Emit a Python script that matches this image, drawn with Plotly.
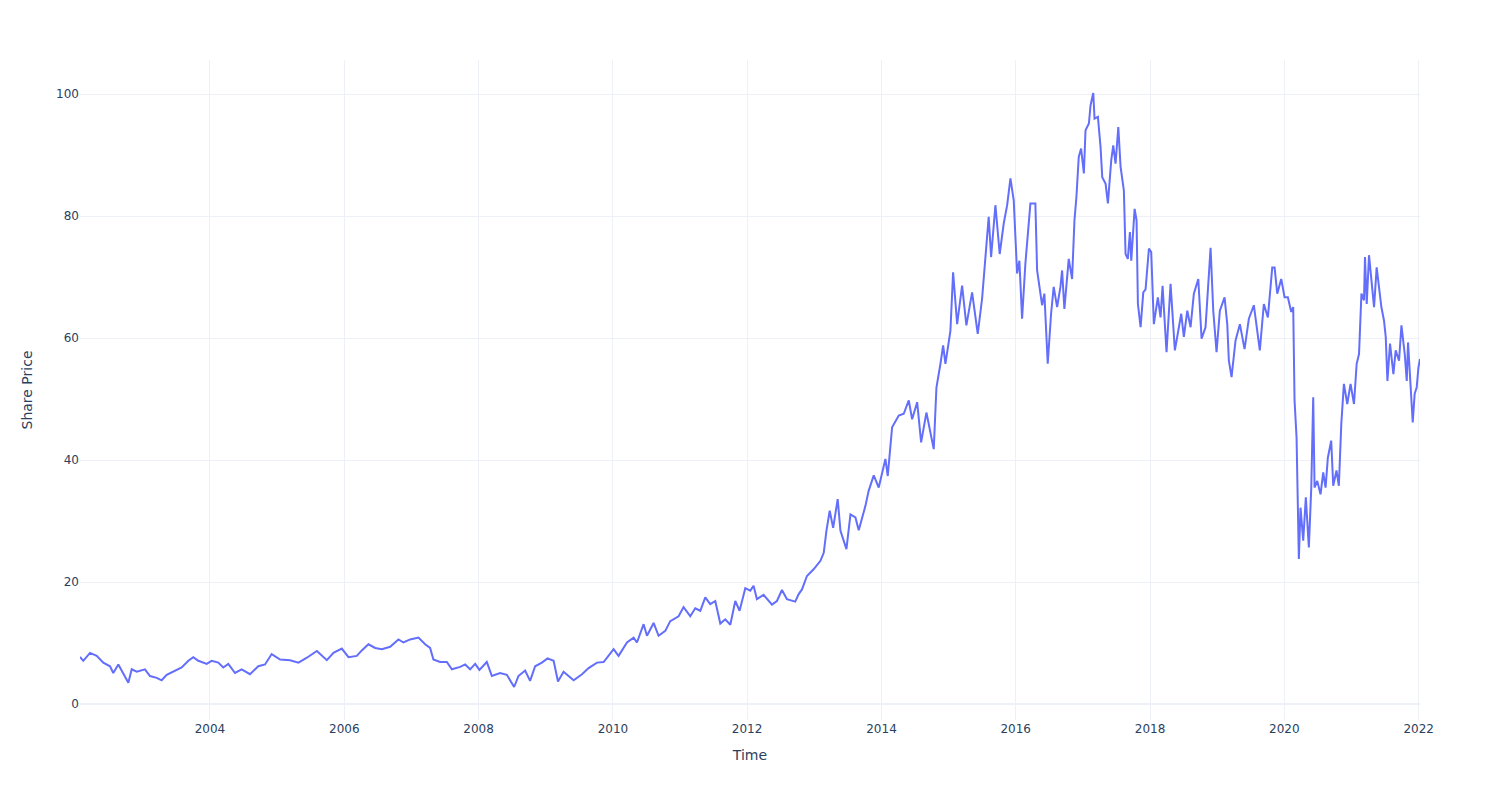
import pandas as pd
import plotly.graph_objects as go

# Dates as decimal years
years = [
    2002.063, 2002.073, 2002.112, 2002.212, 2002.312, 2002.410, 2002.510, 2002.559, 2002.634, 2002.708,
    2002.783, 2002.833, 2002.908, 2003.031, 2003.106, 2003.206, 2003.280, 2003.355, 2003.478, 2003.578,
    2003.677, 2003.751, 2003.826, 2003.951, 2004.025, 2004.124, 2004.198, 2004.273, 2004.373, 2004.472,
    2004.596, 2004.720, 2004.820, 2004.919, 2005.043, 2005.192, 2005.316, 2005.441, 2005.590, 2005.739,
    2005.837, 2005.962, 2006.061, 2006.186, 2006.260, 2006.359, 2006.459, 2006.558, 2006.682, 2006.806,
    2006.880, 2006.980, 2007.104, 2007.204, 2007.278, 2007.327, 2007.427, 2007.527, 2007.602, 2007.725,
    2007.800, 2007.874, 2007.949, 2008.013, 2008.123, 2008.198, 2008.321, 2008.421, 2008.530, 2008.594,
    2008.694, 2008.768, 2008.843, 2008.943, 2009.026, 2009.116, 2009.181, 2009.264, 2009.414, 2009.539,
    2009.637, 2009.762, 2009.861, 2010.010, 2010.084, 2010.209, 2010.308, 2010.358, 2010.457, 2010.507,
    2010.606, 2010.680, 2010.780, 2010.854, 2010.978, 2011.053, 2011.153, 2011.227, 2011.302, 2011.376,
    2011.450, 2011.525, 2011.600, 2011.674, 2011.749, 2011.823, 2011.887, 2011.972, 2012.047, 2012.096,
    2012.146, 2012.245, 2012.370, 2012.444, 2012.519, 2012.593, 2012.717, 2012.766, 2012.817, 2012.891,
    2012.990, 2013.090, 2013.139, 2013.179, 2013.228, 2013.279, 2013.347, 2013.388, 2013.477, 2013.537,
    2013.611, 2013.660, 2013.760, 2013.809, 2013.884, 2013.958, 2014.058, 2014.093, 2014.158, 2014.257,
    2014.331, 2014.406, 2014.456, 2014.531, 2014.590, 2014.669, 2014.778, 2014.818, 2014.878, 2014.918,
    2014.952, 2015.027, 2015.067, 2015.127, 2015.201, 2015.265, 2015.350, 2015.434, 2015.499, 2015.548,
    2015.597, 2015.633, 2015.697, 2015.761, 2015.821, 2015.872, 2015.921, 2015.970, 2016.021, 2016.055,
    2016.095, 2016.144, 2016.219, 2016.293, 2016.319, 2016.393, 2016.427, 2016.477, 2016.527, 2016.566,
    2016.617, 2016.666, 2016.691, 2016.725, 2016.790, 2016.840, 2016.875, 2016.904, 2016.939, 2016.974,
    2017.013, 2017.038, 2017.088, 2017.113, 2017.153, 2017.172, 2017.222, 2017.262, 2017.287, 2017.337,
    2017.371, 2017.421, 2017.451, 2017.485, 2017.526, 2017.560, 2017.609, 2017.634, 2017.668, 2017.699,
    2017.719, 2017.769, 2017.798, 2017.818, 2017.858, 2017.898, 2017.932, 2017.982, 2018.017, 2018.056,
    2018.116, 2018.156, 2018.186, 2018.245, 2018.305, 2018.369, 2018.429, 2018.464, 2018.503, 2018.554,
    2018.603, 2018.652, 2018.718, 2018.767, 2018.826, 2018.861, 2018.901, 2018.941, 2018.990, 2019.040,
    2019.110, 2019.150, 2019.174, 2019.214, 2019.273, 2019.338, 2019.408, 2019.472, 2019.546, 2019.635,
    2019.695, 2019.755, 2019.820, 2019.855, 2019.895, 2019.954, 2020.004, 2020.053, 2020.104, 2020.133,
    2020.153, 2020.183, 2020.202, 2020.217, 2020.242, 2020.282, 2020.321, 2020.366, 2020.402, 2020.431,
    2020.451, 2020.491, 2020.540, 2020.580, 2020.615, 2020.649, 2020.699, 2020.729, 2020.778, 2020.813,
    2020.849, 2020.888, 2020.938, 2020.987, 2021.036, 2021.076, 2021.111, 2021.147, 2021.185, 2021.200,
    2021.226, 2021.260, 2021.311, 2021.335, 2021.374, 2021.409, 2021.444, 2021.483, 2021.509, 2021.534,
    2021.573, 2021.623, 2021.657, 2021.707, 2021.743, 2021.792, 2021.822, 2021.841, 2021.881, 2021.911,
    2021.940, 2021.970, 2021.996, 2022.020,
]

share_price = [
    7.5, 7.6, 7.1, 8.4, 7.9, 6.8, 6.2, 5.1, 6.5, 5.1,
    3.5, 5.7, 5.3, 5.7, 4.6, 4.3, 3.9, 4.8, 5.4, 6.0,
    7.1, 7.7, 7.1, 6.6, 7.1, 6.8, 6.0, 6.6, 5.1, 5.7,
    4.9, 6.2, 6.5, 8.2, 7.3, 7.2, 6.8, 7.6, 8.7, 7.2,
    8.4, 9.1, 7.7, 7.9, 8.8, 9.8, 9.2, 9.0, 9.4, 10.6,
    10.1, 10.6, 10.9, 9.8, 9.2, 7.3, 6.9, 6.9, 5.7, 6.1,
    6.5, 5.7, 6.6, 5.6, 6.9, 4.6, 5.1, 4.8, 2.8, 4.6,
    5.5, 3.8, 6.2, 6.8, 7.5, 7.1, 3.7, 5.3, 3.9, 4.9,
    5.9, 6.8, 6.9, 9.0, 7.9, 10.1, 10.9, 10.1, 13.1, 11.2,
    13.3, 11.2, 12.0, 13.6, 14.4, 15.9, 14.4, 15.7, 15.3, 17.5,
    16.4, 16.9, 13.2, 13.9, 13.0, 16.9, 15.3, 19.0, 18.6, 19.4,
    17.2, 17.9, 16.3, 16.9, 18.7, 17.2, 16.8, 18.0, 18.8, 21.0,
    22.1, 23.5, 24.8, 28.4, 31.7, 28.9, 33.6, 28.4, 25.4, 31.1,
    30.6, 28.5, 32.5, 35.0, 37.5, 35.5, 40.2, 37.4, 45.4, 47.3,
    47.6, 49.8, 46.7, 49.5, 42.9, 47.8, 41.8, 51.9, 55.8, 58.8,
    55.8, 61.2, 70.8, 62.3, 68.6, 62.1, 67.5, 60.7, 66.5, 73.6,
    79.9, 73.3, 81.8, 73.8, 78.8, 81.8, 86.2, 82.6, 70.6, 72.7,
    63.2, 72.2, 82.1, 82.1, 71.1, 65.4, 67.3, 55.8, 64.0, 68.4,
    65.1, 68.4, 71.1, 64.8, 73.0, 69.7, 79.3, 83.1, 89.7, 91.1,
    87.0, 94.1, 95.2, 98.2, 100.2, 96.0, 96.3, 91.3, 86.4, 85.3,
    82.1, 89.2, 91.6, 88.6, 94.6, 88.1, 84.2, 73.8, 73.0, 77.4,
    72.7, 81.2, 79.3, 65.6, 61.8, 67.5, 68.0, 74.7, 74.1, 62.3,
    66.7, 63.4, 68.6, 57.7, 68.9, 58.0, 62.1, 64.0, 60.2, 64.5,
    61.8, 67.3, 69.7, 59.9, 61.8, 67.3, 74.8, 64.5, 57.7, 64.5,
    66.7, 62.3, 56.3, 53.6, 59.6, 62.3, 58.2, 63.2, 65.4, 58.0,
    65.6, 63.4, 71.6, 71.6, 67.3, 69.7, 66.7, 66.7, 64.3, 65.1,
    49.8, 43.7, 34.4, 23.8, 32.2, 26.8, 33.9, 25.7, 35.5, 50.3,
    35.5, 36.6, 34.4, 38.0, 35.5, 40.4, 43.2, 35.8, 38.3, 35.8,
    45.9, 52.5, 49.2, 52.5, 49.2, 55.8, 57.4, 67.3, 66.2, 73.3,
    65.6, 73.6, 67.8, 65.1, 71.6, 68.4, 65.1, 62.9, 60.2, 53.0,
    59.1, 54.1, 58.0, 56.3, 62.1, 57.4, 53.0, 59.3, 52.5, 46.2,
    50.9, 51.9, 55.2, 56.6,
]


def to_date(y):
    base = pd.Timestamp(year=int(y), month=1, day=1)
    return base + pd.Timedelta(days=(y - int(y)) * 365.25)


dates = [to_date(y) for y in years]

fig = go.Figure()
fig.add_trace(go.Scatter(x=dates, y=share_price, mode="lines",
                         line=dict(color="#636efa", width=2)))

fig.update_layout(
    template="plotly",
    plot_bgcolor="white",
    paper_bgcolor="white",
    width=1484, height=784,
    font=dict(family="DejaVu Sans, Verdana, sans-serif", size=12, color="#2a3f5f"),
    margin=dict(l=72, r=72, t=52, b=72),
    xaxis=dict(title="Time", gridcolor="#eef0f8", showline=False, zeroline=False),
    yaxis=dict(title=dict(text="Share Price", standoff=20), gridcolor="#eef0f8",
               zerolinecolor="#eef0f8", zeroline=True, zerolinewidth=2),
    showlegend=False,
)

fig.write_html("out.html")
